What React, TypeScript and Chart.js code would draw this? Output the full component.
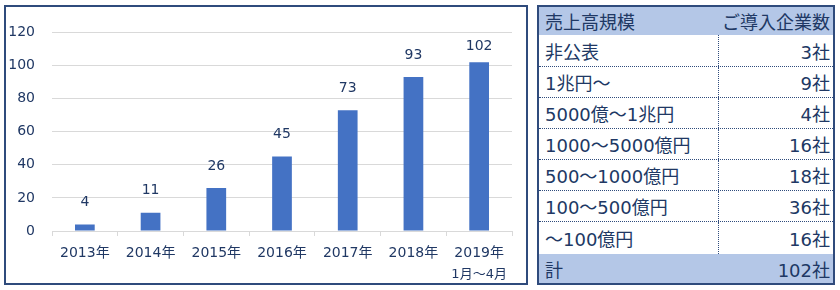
import React, { useEffect, useRef } from "react";
import { Chart, registerables } from "chart.js";

Chart.register(...registerables);

const years = ["2013年", "2014年", "2015年", "2016年", "2017年", "2018年", "2019年"];
const subLabels = ["", "", "", "", "", "", "1月～4月"];
const counts = [4, 11, 26, 45, 73, 93, 102];

const tableHeader = ["売上高規模", "ご導入企業数"];
const sizeCategories = ["非公表", "1兆円～", "5000億～1兆円", "1000～5000億円", "500～1000億円", "100～500億円", "～100億円"];
const sizeCounts = ["3社", "9社", "4社", "16社", "18社", "36社", "16社"];
const totalRow = ["計", "102社"];

const TEXT = "#203864";
const BORDER = "#2F4B7C";
const FONT = "'DejaVu Sans', 'Noto Sans CJK JP', sans-serif";

const labelPlugin = {
  id: "valueLabels",
  afterDatasetsDraw(chart: any) {
    const { ctx, chartArea } = chart;
    const meta = chart.getDatasetMeta(0);
    const data = chart.data.datasets[0].data;
    ctx.save();
    ctx.fillStyle = TEXT;
    ctx.font = `14px ${FONT}`;
    ctx.textAlign = "center";
    ctx.textBaseline = "middle";
    meta.data.forEach((bar: any, i: number) => {
      const y = Math.max(bar.y - 22, chartArea.top + 14);
      ctx.fillText(String(data[i]), bar.x, y);
    });
    const xs = chart.scales.x;
    ctx.font = `13px ${FONT}`;
    subLabels.forEach((s, i) => {
      if (!s) return;
      ctx.fillText(s, xs.getPixelForValue(i), chartArea.bottom + 44);
    });
    ctx.restore();
  },
};

function BarChart() {
  const ref = useRef<HTMLCanvasElement>(null);
  useEffect(() => {
    if (!ref.current) return;
    const chart = new Chart(ref.current, {
      type: "bar",
      data: {
        labels: years,
        datasets: [
          {
            data: counts,
            backgroundColor: "#4472C4",
            categoryPercentage: 1,
            barPercentage: 0.3,
          },
        ],
      },
      options: {
        responsive: false,
        animation: false,
        layout: { padding: { top: 21, right: 14, left: 0, bottom: 0 } },
        plugins: { legend: { display: false }, tooltip: { enabled: false } },
        scales: {
          x: {
            grid: {
              display: true,
              drawOnChartArea: false,
              drawTicks: true,
              tickLength: 5,
              color: "#D9D9D9",
            },
            border: { display: true, color: "#D9D9D9" },
            ticks: { color: TEXT, font: { family: FONT, size: 14 }, padding: 9, maxRotation: 0 },
            afterFit: (s: any) => {
              s.height = 52;
            },
          },
          y: {
            min: 0,
            max: 120,
            ticks: { stepSize: 20, color: TEXT, font: { family: FONT, size: 14 }, padding: 17 },
            grid: { color: "#D9D9D9", drawTicks: false },
            border: { display: false },
            afterFit: (s: any) => {
              s.width = 46;
            },
          },
        },
      },
      plugins: [labelPlugin],
    });
    return () => chart.destroy();
  }, []);
  return <canvas ref={ref} width={520} height={276} style={{ display: "block" }} />;
}

function SizeTable() {
  const rowHeights = [32, 31, 31, 31, 31, 31, 32];
  const cell: React.CSSProperties = {
    display: "flex",
    alignItems: "center",
    boxSizing: "border-box",
    whiteSpace: "nowrap",
  };
  return (
    <div
      style={{
        position: "absolute",
        left: 537,
        top: 5,
        width: 298,
        height: 280,
        border: `2px solid ${BORDER}`,
        boxSizing: "border-box",
        fontFamily: FONT,
        fontSize: 18,
        color: TEXT,
        background: "#fff",
        display: "flex",
        flexDirection: "column",
      }}
    >
      <div style={{ display: "flex", height: 28, background: "#B4C7E7" }}>
        <div style={{ ...cell, width: 180, paddingLeft: 6 }}>{tableHeader[0]}</div>
        <div style={{ ...cell, flex: 1, justifyContent: "flex-end", paddingRight: 3 }}>{tableHeader[1]}</div>
      </div>
      {sizeCategories.map((c, i) => (
        <div
          key={c}
          style={{
            display: "flex",
            height: rowHeights[i],
            boxSizing: "border-box",
            borderBottom: i < sizeCategories.length - 1 ? `1px dotted ${BORDER}` : "none",
          }}
        >
          <div style={{ ...cell, width: 180, paddingLeft: 6, borderRight: `1px dotted ${BORDER}` }}>{c}</div>
          <div style={{ ...cell, flex: 1, justifyContent: "flex-end", paddingRight: 3 }}>{sizeCounts[i]}</div>
        </div>
      ))}
      <div style={{ display: "flex", flex: 1, background: "#B4C7E7" }}>
        <div style={{ ...cell, width: 180, paddingLeft: 6 }}>{totalRow[0]}</div>
        <div style={{ ...cell, flex: 1, justifyContent: "flex-end", paddingRight: 3 }}>{totalRow[1]}</div>
      </div>
    </div>
  );
}

export default function App() {
  return (
    <div style={{ position: "fixed", left: 0, top: 0, width: 840, height: 290, background: "#fff" }}>
      <div
        style={{
          position: "absolute",
          left: 4,
          top: 5,
          width: 524,
          height: 280,
          border: `2px solid ${BORDER}`,
          boxSizing: "border-box",
        }}
      >
        <BarChart />
      </div>
      <SizeTable />
    </div>
  );
}
